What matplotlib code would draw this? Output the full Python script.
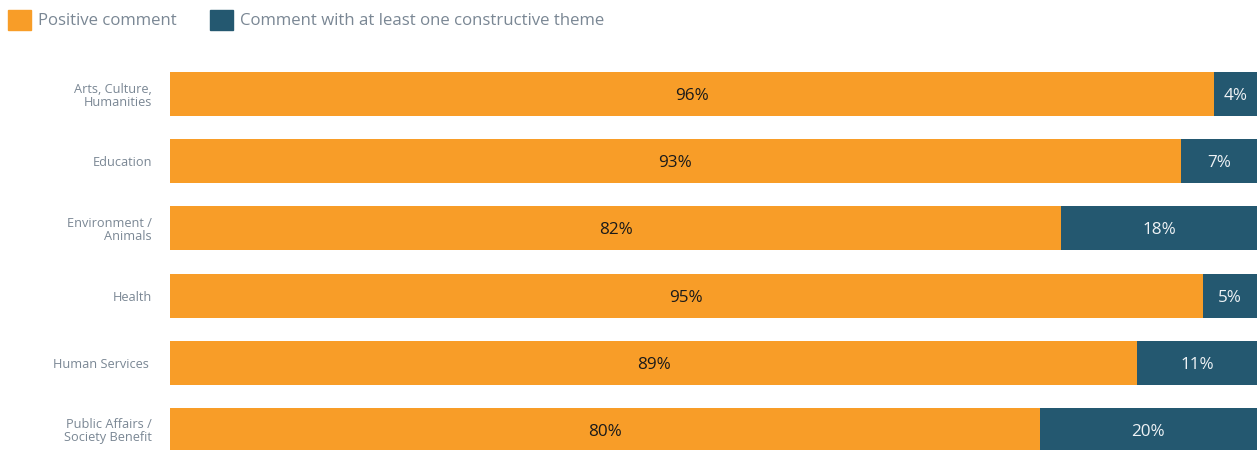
import matplotlib
matplotlib.use("Agg")
import matplotlib.pyplot as plt
from matplotlib.patches import Patch

plt.rcParams['font.family'] = ['Open Sans', 'DejaVu Sans']

categories = ["Arts, Culture,\nHumanities", "Education", "Environment /\nAnimals",
              "Health", "Human Services ", "Public Affairs /\nSociety Benefit"]
positive = [96, 93, 82, 95, 89, 80]
constructive = [4, 7, 18, 5, 11, 20]
series_names = ["Positive comment", "Comment with at least one constructive theme"]

ORANGE = "#F89D28"
TEAL = "#245870"
GRAY = "#7A8794"

W, H = 1257, 450
fig = plt.figure(figsize=(W / 100, H / 100), dpi=100)
ax = fig.add_axes([170 / W, 0, 1 - 170 / W, 1 - 60 / H])

y = list(range(len(categories)))
h = 0.655
ax.barh(y, positive, height=h, color=ORANGE, label=series_names[0])
ax.barh(y, constructive, left=positive, height=h, color=TEAL, label=series_names[1])

for yi, p, c in zip(y, positive, constructive):
    ax.text(p / 2, yi, f"{p}%", ha="center", va="center_baseline", fontsize=12.3, color="#1A1A1A")
    ax.text(p + c / 2, yi, f"{c}%", ha="center", va="center_baseline", fontsize=12.3, color="#EEF2F5")

ax.set_xlim(0, 100)
ax.set_ylim(5.298, -0.506)
ax.set_yticks(y)
ax.set_yticklabels(categories, fontsize=9.2, color=GRAY, linespacing=1.0)
ax.tick_params(axis="y", length=0, pad=13)
ax.set_xticks([])
for s in ax.spines.values():
    s.set_visible(False)

fig.legend(handles=[Patch(color=ORANGE), Patch(color=TEAL)], labels=series_names,
           loc="upper left", bbox_to_anchor=(0.001, 0.994), ncol=2, frameon=False,
           fontsize=12.1, handlelength=1.36, handleheight=1.45, handletextpad=0.4,
           columnspacing=2.0, borderaxespad=0.12, borderpad=0.3,
           labelcolor=GRAY)

fig.savefig("out.png", dpi=100)
